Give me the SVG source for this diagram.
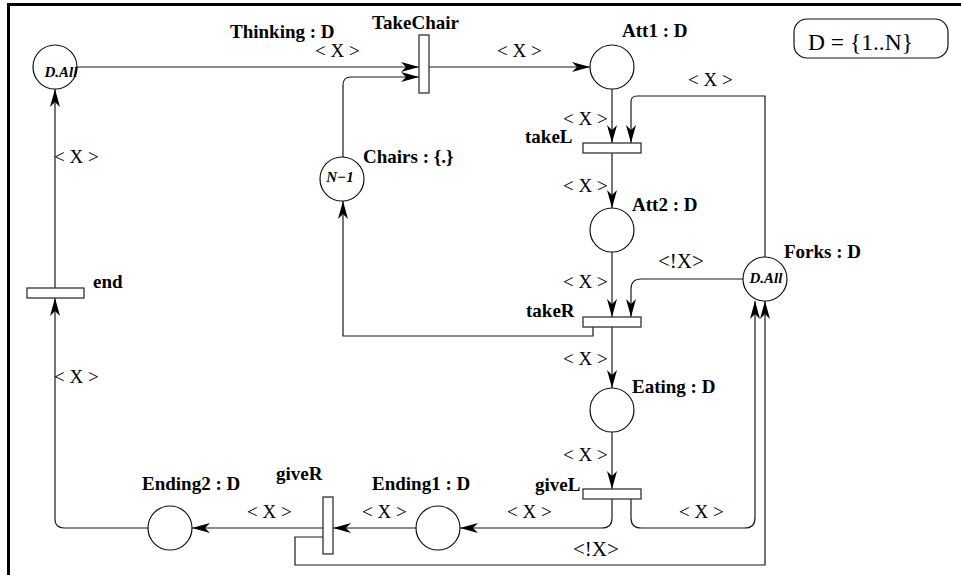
<svg xmlns="http://www.w3.org/2000/svg" width="961" height="575" viewBox="0 0 961 575">
<style>
.pl{fill:#fff;stroke:#111;stroke-width:1.2}
.tr{fill:#fff;stroke:#333;stroke-width:1.3}
.c{fill:none;stroke:#1a1a1a;stroke-width:1.2;marker-end:url(#ah)}
.lb{font-family:"Liberation Serif",serif;font-weight:bold;font-size:19px;fill:#000}
.ax{font-family:"Liberation Serif",serif;font-size:19px;fill:#000}
.nx{font-family:"Liberation Serif",serif;font-size:21px;fill:#000}
.tk{font-family:"Liberation Serif",serif;font-weight:bold;font-style:italic;font-size:15px;fill:#000}
</style>
<defs>
<marker id="ah" viewBox="-19 -7 20 14" markerWidth="20" markerHeight="14" refX="0" refY="0" orient="auto" markerUnits="userSpaceOnUse">
<path d="M0,0 L-18,-5 L-13,0 L-18,5 Z" fill="#000"/>
</marker>
</defs>
<rect width="961" height="575" fill="#fff"/>
<path d="M8.5,575 L8.5,4.5 L961,4.5" fill="none" stroke="#000" stroke-width="3"/>

<g id="connectors">
<path class="c" d="M77,67 L419,67"/>
<path class="c" d="M343,157 L343,85 Q343,77 351,77 L419,77"/>
<path class="c" d="M429,67 L590,67"/>
<path class="c" d="M612,89 L612,143"/>
<path class="c" d="M765,257 L765,96 L637,96 Q631,96 631,102 L631,143"/>
<path class="c" d="M612,153 L612,208"/>
<path class="c" d="M612,252 L612,317"/>
<path class="c" d="M743,279 L641,279 Q631,279 631,289 L631,317"/>
<path class="c" d="M593,327 L593,336 L343,336 L343,201"/>
<path class="c" d="M612,327 L612,388"/>
<path class="c" d="M612,432 L612,489"/>
<path class="c" d="M612,499 L612,518 Q612,528 602,528 L460,528"/>
<path class="c" d="M631,499 L631,518 Q631,528 641,528 L745,528 Q755,528 755,518 L755,301"/>
<path class="c" d="M323,537 L295,537 L295,565 L765,565 L765,301"/>
<path class="c" d="M417,528 L333,528"/>
<path class="c" d="M323,528 L192,528"/>
<path class="c" d="M148,528 L64,528 Q55,528 55,519 L55,298"/>
<path class="c" d="M55,288 L55,89"/>
</g>

<g id="p_thinking">
<circle class="pl" cx="55" cy="67" r="22"/>
<text class="tk" x="61" y="77" text-anchor="middle">D.All</text>
<text class="lb" x="230" y="38">Thinking : D</text>
</g>
<g id="t_takechair">
<rect class="tr" x="419" y="35" width="10" height="58"/>
<text class="lb" x="372" y="29">TakeChair</text>
</g>
<g id="p_chairs">
<circle class="pl" cx="342" cy="179" r="22"/>
<text class="tk" x="340" y="182" text-anchor="middle">N−1</text>
<text class="lb" x="363" y="163">Chairs : {.}</text>
</g>
<g id="p_att1">
<circle class="pl" cx="612" cy="67" r="22"/>
<text class="lb" x="622" y="37">Att1 : D</text>
</g>
<g id="t_takel">
<rect class="tr" x="583" y="143" width="58" height="10"/>
<text class="lb" x="525" y="143">takeL</text>
</g>
<g id="p_att2">
<circle class="pl" cx="612" cy="230" r="22"/>
<text class="lb" x="632" y="211">Att2 : D</text>
</g>
<g id="t_taker">
<rect class="tr" x="583" y="317" width="58" height="10"/>
<text class="lb" x="526" y="317">takeR</text>
</g>
<g id="p_forks">
<circle class="pl" cx="765" cy="279" r="22"/>
<text class="tk" x="766" y="283" text-anchor="middle">D.All</text>
<text class="lb" x="784" y="258">Forks : D</text>
</g>
<g id="p_eating">
<circle class="pl" cx="612" cy="410" r="22"/>
<text class="lb" x="632" y="393">Eating : D</text>
</g>
<g id="t_givel">
<rect class="tr" x="583" y="489" width="58" height="10"/>
<text class="lb" x="535" y="491">giveL</text>
</g>
<g id="p_ending1">
<circle class="pl" cx="438" cy="528" r="22"/>
<text class="lb" x="372" y="490">Ending1 : D</text>
</g>
<g id="t_giver">
<rect class="tr" x="323" y="497" width="10" height="57"/>
<text class="lb" x="276" y="480">giveR</text>
</g>
<g id="p_ending2">
<circle class="pl" cx="170" cy="528" r="22"/>
<text class="lb" x="142" y="490">Ending2 : D</text>
</g>
<g id="t_end">
<rect class="tr" x="27" y="288" width="57" height="10"/>
<text class="lb" x="93" y="288">end</text>
</g>
<g id="decl">
<rect x="794" y="19" width="154" height="39" rx="13" ry="13" fill="#fff" stroke="#111" stroke-width="1.2"/>
<text x="860.5" y="50" text-anchor="middle" font-family="Liberation Serif, serif" font-size="23.5px">D = {1..N}</text>
</g>

<g id="arc_labels">
<text class="ax" x="315" y="57">&lt; X &gt;</text>
<text class="ax" x="497" y="57">&lt; X &gt;</text>
<text class="ax" x="688" y="86">&lt; X &gt;</text>
<text class="ax" x="563" y="125">&lt; X &gt;</text>
<text class="ax" x="563" y="192">&lt; X &gt;</text>
<text class="ax" x="563" y="288">&lt; X &gt;</text>
<text class="nx" x="658" y="268">&lt;!X&gt;</text>
<text class="ax" x="563" y="365">&lt; X &gt;</text>
<text class="ax" x="563" y="461">&lt; X &gt;</text>
<text class="ax" x="507" y="518">&lt; X &gt;</text>
<text class="ax" x="679" y="518">&lt; X &gt;</text>
<text class="nx" x="573" y="556">&lt;!X&gt;</text>
<text class="ax" x="247" y="518">&lt; X &gt;</text>
<text class="ax" x="362" y="518">&lt; X &gt;</text>
<text class="ax" x="54" y="163">&lt; X &gt;</text>
<text class="ax" x="54" y="383">&lt; X &gt;</text>
</g>
</svg>
